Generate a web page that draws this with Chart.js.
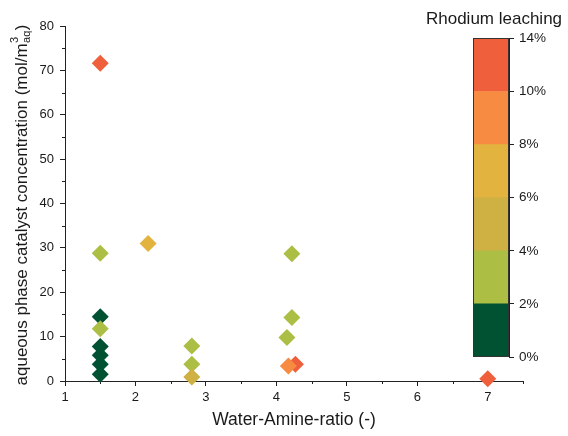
<!DOCTYPE html>
<html>
<head>
<meta charset="utf-8">
<script src="https://cdn.jsdelivr.net/npm/chart.js@4"></script>
<style>
  html, body { margin: 0; padding: 0; background: #fff; }
  #wrap { position: relative; width: 568px; height: 436px; }
  #main { position: absolute; left: 0; top: 0; }
  #bar { position: absolute; left: 420px; top: 0; pointer-events: none; }
</style>
</head>
<body>
<div id="wrap">
  <canvas id="main" width="568" height="436"></canvas>
  <canvas id="bar" width="148" height="380"></canvas>
</div>
<script>
// points (drawing order matters where they overlap)
var ratio = [1.5, 1.5, 1.5, 1.5, 1.5, 1.5, 1.5, 1.5, 2.18, 2.8, 2.8, 2.8, 4.15, 4.22, 4.22, 4.27, 4.17, 7.0];
var conc  = [14.5, 7.8, 5.8, 3.8, 1.5, 11.8, 28.8, 71.6, 31.0, 7.9, 3.8, 0.9, 9.8, 28.7, 14.3, 3.8, 3.4, 0.5];
// rhodium leaching in %, only the class is visible so class middles are used
var leach = [1, 1, 1, 1, 1, 3, 3, 12, 7, 3, 3, 5, 3, 3, 3, 12, 9, 12];

var xTicks = [1, 2, 3, 4, 5, 6, 7];
var binEdges = [0, 2, 4, 6, 8, 10, 14];
var binColors = ['#015233', '#adbe45', '#cfb042', '#e2b43f', '#f68b41', '#f05f3b'];

Chart.defaults.font.family = '"Liberation Sans", Arial, sans-serif';
Chart.defaults.color = '#1a1a1a';

function colorFor(v) {
  for (var i = 0; i < binColors.length; i++) {
    if (v >= binEdges[i] && v < binEdges[i + 1]) return binColors[i];
  }
  return binColors[binColors.length - 1];
}

var pts = ratio.map(function (x, i) { return { x: x, y: conc[i] }; });
var ptColors = leach.map(colorFor);

var axisCol = '#222';

// minor ticks + the y title with sup/sub script
var extras = {
  id: 'extras',
  beforeDatasetsDraw: function (chart) {
    var ctx = chart.ctx, xs = chart.scales.x, ys = chart.scales.y;
    ctx.save();
    ctx.strokeStyle = axisCol;
    ctx.lineWidth = 1;
    ctx.beginPath();
    for (var v = 1.5; v <= 7.5; v += 1) {
      var px = Math.round(xs.getPixelForValue(v)) + 0.5;
      ctx.moveTo(px, ys.bottom);
      ctx.lineTo(px, ys.bottom + 3);
    }
    for (var w = 5; w < 80; w += 10) {
      var py = Math.round(ys.getPixelForValue(w)) + 0.5;
      ctx.moveTo(xs.left, py);
      ctx.lineTo(xs.left - 3, py);
    }
    ctx.stroke();

    // y axis title
    var big = '17px "Liberation Sans", Arial, sans-serif';
    var small = '11px "Liberation Sans", Arial, sans-serif';
    var main = 'aqueous phase catalyst concentration (mol/m';
    ctx.font = big;
    var w1 = ctx.measureText(main).width;
    var w3 = ctx.measureText(')').width;
    ctx.font = small;
    var w2 = Math.max(ctx.measureText('3').width, ctx.measureText('aq').width);
    var total = w1 + w2 + w3;
    ctx.translate(22, (ys.top + ys.bottom) / 2 + 2);
    ctx.rotate(-Math.PI / 2);
    ctx.fillStyle = '#1a1a1a';
    ctx.textBaseline = 'middle';
    ctx.textAlign = 'left';
    var x0 = -total / 2;
    ctx.font = big;
    ctx.fillText(main, x0, 0);
    ctx.font = small;
    ctx.fillText('3', x0 + w1 + 0.5, -7);
    ctx.fillText('aq', x0 + w1 + 0.5, 5);
    ctx.font = big;
    ctx.fillText(')', x0 + w1 + w2 + 1, 0);
    ctx.restore();
  }
};

new Chart(document.getElementById('main'), {
  type: 'scatter',
  data: {
    datasets: [{
      data: pts,
      pointStyle: 'rectRot',
      pointRadius: 8.5,
      pointBorderWidth: 0,
      pointBackgroundColor: ptColors,
      clip: false
    }]
  },
  options: {
    responsive: false,
    animation: false,
    layout: { padding: { left: 0, right: 45, top: 26, bottom: 0 } },
    plugins: { legend: { display: false }, tooltip: { enabled: false } },
    scales: {
      x: {
        type: 'linear', min: 1, max: 7.5,
        afterBuildTicks: function (s) { s.ticks = xTicks.map(function (v) { return { value: v }; }); },
        afterFit: function (s) { s.height = 55; },
        grid: { drawOnChartArea: false, tickLength: 5, tickColor: axisCol },
        border: { color: axisCol },
        ticks: { font: { size: 13 }, padding: 4, color: '#1a1a1a' },
        title: { display: true, text: 'Water-Amine-ratio (-)', font: { size: 17.5 }, color: '#1a1a1a', padding: { top: 0, bottom: 5 } }
      },
      y: {
        type: 'linear', min: 0, max: 80,
        afterFit: function (s) { s.width = 65; },
        grid: { drawOnChartArea: false, tickLength: 5, tickColor: axisCol },
        border: { color: axisCol },
        ticks: { stepSize: 10, font: { size: 13 }, padding: 6, color: '#1a1a1a' }
      }
    }
  },
  plugins: [extras]
});

// colour bar legend
var outline = {
  id: 'outline',
  afterDatasetsDraw: function (chart) {
    var a = chart.chartArea, ctx = chart.ctx;
    ctx.save();
    ctx.strokeStyle = '#333';
    ctx.lineWidth = 1;
    ctx.strokeRect(Math.round(a.left) + 0.5, Math.round(a.top) + 0.5, Math.round(a.right - a.left) - 1, Math.round(a.bottom - a.top) - 1);
    ctx.restore();
  }
};

new Chart(document.getElementById('bar'), {
  type: 'bar',
  data: {
    labels: [''],
    datasets: binColors.map(function (c) {
      return { data: [1], backgroundColor: c, borderWidth: 0, barPercentage: 1, categoryPercentage: 1, xAxisID: 'x', yAxisID: 'y' };
    })
  },
  options: {
    responsive: false,
    animation: false,
    layout: { padding: { left: 0, right: 0, top: 0, bottom: 23 } },
    plugins: {
      legend: { display: false },
      tooltip: { enabled: false },
      title: { display: true, text: 'Rhodium leaching', font: { size: 17, weight: 'normal' }, color: '#1a1a1a', padding: { top: 9, bottom: 9 } }
    },
    scales: {
      x: { display: false, stacked: true },
      y: {
        stacked: true, position: 'right', min: 0, max: 6,
        afterFit: function (s) { s.width = 59; },
        grid: { drawOnChartArea: false, tickLength: 5, tickColor: axisCol },
        border: { color: axisCol },
        ticks: {
          stepSize: 1, font: { size: 13.5 }, padding: 5, color: '#1a1a1a',
          callback: function (v) { return binEdges[v] + '%'; }
        }
      },
      // empty left axis, only there to push the bar to the right
      pad: {
        type: 'linear', position: 'left', min: 0, max: 6,
        afterFit: function (s) { s.width = 53; },
        grid: { display: false }, border: { display: false }, ticks: { display: false }
      }
    }
  },
  plugins: [outline]
});
</script>
</body>
</html>
